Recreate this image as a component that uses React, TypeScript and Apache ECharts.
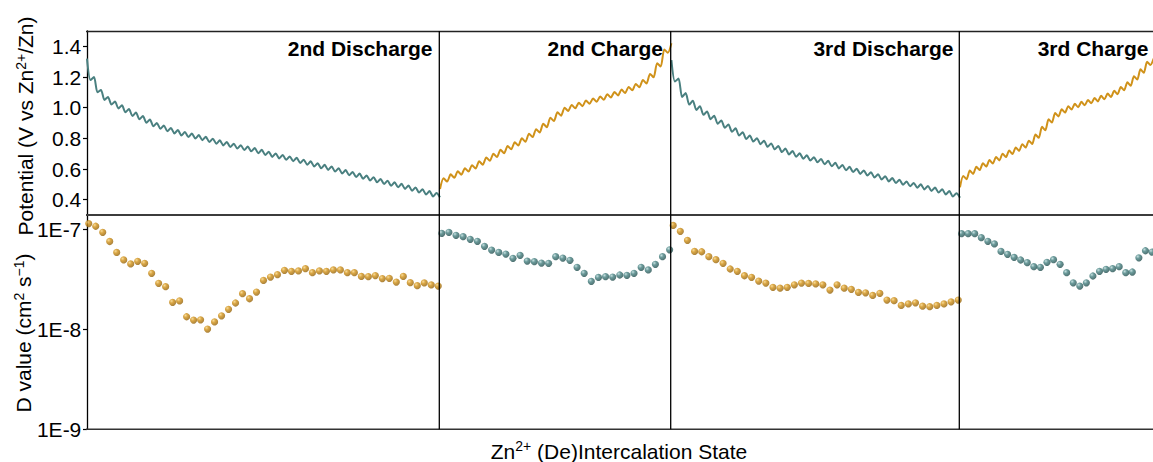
import React, { useEffect, useRef } from 'react';
import * as echarts from 'echarts';

// ---------- data ----------
const panelTitles = ['2nd Discharge', '2nd Charge', '3rd Discharge', '3rd Charge'];
const panelKinds = ['discharge', 'charge', 'discharge', 'charge'];

// GITT potentials per titration step: relaxed (rest) potential and end-of-pulse potential (V vs Zn2+/Zn)
const discharge2Relaxed = [1.32, 1.20, 1.115, 1.07, 1.04, 1.015, 0.991, 0.968, 0.946, 0.923, 0.900, 0.884, 0.868, 0.854, 0.841, 0.831, 0.821, 0.810, 0.798, 0.787, 0.776, 0.765, 0.755, 0.746, 0.737, 0.725, 0.713, 0.701, 0.691, 0.682, 0.673, 0.661, 0.650, 0.638, 0.627, 0.616, 0.605, 0.593, 0.581, 0.570, 0.558, 0.547, 0.535, 0.524, 0.513, 0.503, 0.492, 0.480, 0.468, 0.456, 0.443];
const discharge2Pulse = [1.18, 1.10, 1.05, 1.02, 0.995, 0.970, 0.946, 0.924, 0.901, 0.878, 0.862, 0.846, 0.832, 0.819, 0.809, 0.799, 0.788, 0.776, 0.765, 0.754, 0.743, 0.733, 0.724, 0.715, 0.703, 0.691, 0.679, 0.669, 0.660, 0.651, 0.639, 0.628, 0.616, 0.605, 0.594, 0.583, 0.571, 0.559, 0.548, 0.536, 0.525, 0.513, 0.502, 0.491, 0.481, 0.470, 0.458, 0.446, 0.434, 0.421, 0.415];

const charge2Relaxed = [0.47, 0.518, 0.543, 0.563, 0.583, 0.603, 0.628, 0.653, 0.678, 0.703, 0.728, 0.753, 0.778, 0.808, 0.838, 0.873, 0.913, 0.948, 0.978, 0.996, 1.010, 1.025, 1.038, 1.051, 1.066, 1.080, 1.096, 1.113, 1.133, 1.158, 1.198, 1.268, 1.358];
const charge2Pulse = [0.540, 0.565, 0.585, 0.605, 0.625, 0.650, 0.675, 0.700, 0.725, 0.750, 0.775, 0.800, 0.830, 0.860, 0.895, 0.935, 0.970, 1.000, 1.018, 1.032, 1.047, 1.060, 1.073, 1.088, 1.102, 1.118, 1.135, 1.155, 1.180, 1.220, 1.290, 1.380, 1.420];

const discharge3Relaxed = [1.31, 1.19, 1.095, 1.045, 1.01, 0.975, 0.947, 0.917, 0.891, 0.865, 0.840, 0.818, 0.801, 0.784, 0.767, 0.750, 0.733, 0.717, 0.702, 0.689, 0.677, 0.666, 0.653, 0.640, 0.626, 0.614, 0.602, 0.590, 0.579, 0.566, 0.553, 0.541, 0.530, 0.519, 0.509, 0.500, 0.489, 0.479, 0.468, 0.456, 0.442];
const discharge3Pulse = [1.17, 1.07, 1.02, 0.985, 0.953, 0.925, 0.895, 0.869, 0.843, 0.818, 0.796, 0.779, 0.762, 0.745, 0.728, 0.711, 0.695, 0.680, 0.667, 0.655, 0.644, 0.631, 0.618, 0.604, 0.592, 0.580, 0.568, 0.557, 0.544, 0.531, 0.519, 0.508, 0.497, 0.487, 0.478, 0.467, 0.457, 0.446, 0.434, 0.420, 0.412];

const charge3Relaxed = [0.48, 0.533, 0.568, 0.593, 0.616, 0.636, 0.656, 0.678, 0.698, 0.718, 0.740, 0.763, 0.803, 0.853, 0.903, 0.943, 0.968, 0.988, 1.003, 1.016, 1.028, 1.041, 1.055, 1.070, 1.088, 1.113, 1.143, 1.183, 1.228, 1.278];
const charge3Pulse = [0.555, 0.590, 0.615, 0.638, 0.658, 0.678, 0.700, 0.720, 0.740, 0.762, 0.785, 0.825, 0.875, 0.925, 0.965, 0.990, 1.010, 1.025, 1.038, 1.050, 1.063, 1.077, 1.092, 1.110, 1.135, 1.165, 1.205, 1.250, 1.300, 1.320];

// Diffusion coefficients (cm2 s-1) per step
const discharge2D = [1.15e-7, 1.08e-7, 9.4e-8, 7.6e-8, 5.9e-8, 4.97e-8, 4.53e-8, 4.81e-8, 4.6e-8, 3.65e-8, 2.9e-8, 2.68e-8, 1.87e-8, 1.93e-8, 1.34e-8, 1.24e-8, 1.25e-8, 1.01e-8, 1.19e-8, 1.37e-8, 1.59e-8, 1.84e-8, 2.28e-8, 2.03e-8, 2.37e-8, 3.1e-8, 3.35e-8, 3.54e-8, 3.91e-8, 3.82e-8, 3.85e-8, 4.06e-8, 3.7e-8, 3.85e-8, 3.82e-8, 3.94e-8, 3.94e-8, 3.7e-8, 3.7e-8, 3.4e-8, 3.38e-8, 3.46e-8, 3.23e-8, 3.25e-8, 2.98e-8, 3.4e-8, 2.94e-8, 2.74e-8, 2.92e-8, 2.79e-8, 2.72e-8];
const charge2D = [9.18e-8, 9.4e-8, 8.77e-8, 8.49e-8, 8.0e-8, 7.63e-8, 6.8e-8, 6.24e-8, 5.91e-8, 5.69e-8, 5.15e-8, 5.52e-8, 4.84e-8, 4.77e-8, 4.62e-8, 4.59e-8, 5.35e-8, 5.19e-8, 4.92e-8, 4.19e-8, 3.65e-8, 3.03e-8, 3.32e-8, 3.38e-8, 3.35e-8, 3.51e-8, 3.48e-8, 3.65e-8, 4.19e-8, 3.94e-8, 4.49e-8, 5.35e-8, 6.28e-8];
const discharge3D = [1.10e-7, 9.6e-8, 7.8e-8, 6.05e-8, 6.0e-8, 5.35e-8, 4.99e-8, 4.59e-8, 4.03e-8, 3.82e-8, 3.45e-8, 3.33e-8, 3.05e-8, 2.91e-8, 2.64e-8, 2.59e-8, 2.64e-8, 2.8e-8, 2.91e-8, 2.89e-8, 2.86e-8, 2.8e-8, 2.48e-8, 2.8e-8, 2.59e-8, 2.52e-8, 2.35e-8, 2.33e-8, 2.19e-8, 2.3e-8, 1.97e-8, 1.94e-8, 1.74e-8, 1.8e-8, 1.85e-8, 1.71e-8, 1.69e-8, 1.74e-8, 1.8e-8, 1.89e-8, 1.97e-8];
const charge3D = [9.1e-8, 9.1e-8, 9.1e-8, 8.3e-8, 7.63e-8, 7.18e-8, 6.05e-8, 5.65e-8, 5.27e-8, 4.96e-8, 4.66e-8, 4.25e-8, 4.19e-8, 4.7e-8, 4.99e-8, 4.49e-8, 3.7e-8, 2.93e-8, 2.72e-8, 2.93e-8, 3.43e-8, 3.82e-8, 4.0e-8, 4.06e-8, 4.25e-8, 3.7e-8, 3.76e-8, 5.22e-8, 6.14e-8, 5.96e-8];

const potentialTicks = [0.4, 0.6, 0.8, 1.0, 1.2, 1.4];
const dTicks = [1e-9, 1e-8, 1e-7];

// ---------- layout / style ----------
const FONT = '"Liberation Sans", Arial, Helvetica, sans-serif';
const COL_EDGES = [86.3, 439.3, 670.7, 959.3, 1154];
const TITLE_RIGHT = [432.5, 663, 953.5, 1148.5];
const TOP = 31;
const MID = 215;
const BOTTOM = 429.3;
const TEAL = '#4a8080';
const GOLD = '#d0921a';

const panels = [
  { relaxed: discharge2Relaxed, pulse: discharge2Pulse, d: discharge2D },
  { relaxed: charge2Relaxed, pulse: charge2Pulse, d: charge2D },
  { relaxed: discharge3Relaxed, pulse: discharge3Pulse, d: discharge3D },
  { relaxed: charge3Relaxed, pulse: charge3Pulse, d: charge3D },
];

function ballColor(kind: string) {
  const stops = kind === 'gold'
    ? [
        { offset: 0, color: '#f6d27e' },
        { offset: 0.4, color: '#d09016' },
        { offset: 1, color: '#94620a' },
      ]
    : [
        { offset: 0, color: '#b8d8d8' },
        { offset: 0.4, color: '#468181' },
        { offset: 1, color: '#244f4f' },
      ];
  return new echarts.graphic.RadialGradient(0.35, 0.32, 0.7, stops);
}

function buildOption() {
  const grid: any[] = [];
  const xAxis: any[] = [];
  const yAxis: any[] = [];
  const series: any[] = [];

  panels.forEach((p, k) => {
    const left = COL_EDGES[k];
    const width = COL_EDGES[k + 1] - COL_EDGES[k];
    grid.push({ left, top: TOP, width, height: MID - TOP, show: false });
    grid.push({ left, top: MID, width, height: BOTTOM - MID, show: false });
    const n = p.d.length;
    xAxis.push({ type: 'value', gridIndex: 2 * k, min: -0.1, max: n - 0.6, show: false });
    xAxis.push({ type: 'value', gridIndex: 2 * k + 1, min: -0.1, max: n - 0.6, show: false });

    const showAx = k === 0;
    yAxis.push({
      type: 'value',
      gridIndex: 2 * k,
      min: 0.3,
      max: 1.5,
      show: showAx,
      axisLine: { show: true, lineStyle: { color: '#000', width: 1.3 } },
      axisTick: { show: true, inside: false, length: 4, customValues: potentialTicks, lineStyle: { color: '#000', width: 1.2 } },
      axisLabel: {
        customValues: potentialTicks,
        fontSize: 21,
        fontFamily: FONT,
        color: '#000',
        margin: 5,
        formatter: (v: number) => v.toFixed(1),
      },
      splitLine: { show: false },
    });
    yAxis.push({
      type: 'log',
      logBase: 10,
      gridIndex: 2 * k + 1,
      min: 1e-9,
      max: 1.4e-7,
      show: showAx,
      axisLine: { show: true, lineStyle: { color: '#000', width: 1.3 } },
      axisTick: { show: true, inside: false, length: 4, customValues: dTicks, lineStyle: { color: '#000', width: 1.2 } },
      axisLabel: {
        customValues: dTicks,
        fontSize: 21,
        fontFamily: FONT,
        color: '#000',
        margin: 5,
        formatter: (v: number) => '1E' + Math.round(Math.log10(v)),
      },
      splitLine: { show: false },
      minorTick: { show: false },
      minorSplitLine: { show: false },
    });

    const isDis = panelKinds[k] === 'discharge';
    const lineData: number[][] = [];
    p.relaxed.forEach((v, i) => {
      lineData.push([i, v]);
      lineData.push([i + 0.5, p.pulse[i]]);
    });
    series.push({
      type: 'line',
      xAxisIndex: 2 * k,
      yAxisIndex: 2 * k,
      data: lineData,
      showSymbol: false,
      symbol: 'none',
      clip: true,
      smooth: 0.25,
      lineStyle: { color: isDis ? TEAL : GOLD, width: 2 },
      z: 3,
    });
    series.push({
      type: 'scatter',
      xAxisIndex: 2 * k + 1,
      yAxisIndex: 2 * k + 1,
      data: p.d.map((v, i) => [i + 0.25, v]),
      symbol: 'circle',
      symbolSize: 7.2,
      clip: true,
      itemStyle: { color: ballColor(isDis ? 'gold' : 'teal') },
      z: 3,
    });
  });

  const graphics: any[] = [];
  // frame
  graphics.push({ type: 'line', shape: { x1: 86, y1: 31.5, x2: 1153, y2: 31.5 }, style: { stroke: '#222', lineWidth: 1.3 }, z: 50 });
  graphics.push({ type: 'line', shape: { x1: 86, y1: MID, x2: 1153, y2: MID }, style: { stroke: '#3c3c3c', lineWidth: 2.2 }, z: 50 });
  graphics.push({ type: 'line', shape: { x1: 86, y1: BOTTOM, x2: 1153, y2: BOTTOM }, style: { stroke: '#333', lineWidth: 1.6 }, z: 50 });
  [1, 2, 3].forEach((c) => {
    graphics.push({ type: 'line', shape: { x1: COL_EDGES[c], y1: 31, x2: COL_EDGES[c], y2: BOTTOM }, style: { stroke: '#000', lineWidth: 1.3 }, z: 50 });
  });
  // panel titles
  panelTitles.forEach((t, k) => {
    graphics.push({
      type: 'text',
      x: TITLE_RIGHT[k],
      y: 48,
      z: 60,
      style: { text: t, fontSize: 21, fontWeight: 'bold', fontFamily: FONT, fill: '#000', align: 'right', verticalAlign: 'middle' },
    });
  });
  const rich = {
    n: { fontSize: 21, fontFamily: FONT, fill: '#000' },
    s: { fontSize: 14, fontFamily: FONT, fill: '#000', padding: [0, 0, 10, 0] },
  };
  graphics.push({
    type: 'text',
    x: 25.5,
    y: 126,
    rotation: Math.PI / 2,
    z: 60,
    style: { text: '{n|Potential (V vs Zn}{s|2+}{n|/Zn)}', rich, align: 'center', verticalAlign: 'middle' },
  });
  graphics.push({
    type: 'text',
    x: 23.5,
    y: 333,
    rotation: Math.PI / 2,
    z: 60,
    style: { text: '{n|D value (cm}{s|2}{n| s}{s|\u22121}{n|)}', rich, align: 'center', verticalAlign: 'middle' },
  });
  graphics.push({
    type: 'text',
    x: 619,
    y: 451,
    z: 60,
    style: { text: '{n|Zn}{s|2+}{n| (De)Intercalation State}', rich, align: 'center', verticalAlign: 'middle' },
  });

  return {
    animation: false,
    backgroundColor: '#fff',
    grid,
    xAxis,
    yAxis,
    series,
    graphic: graphics,
  };
}

export default function App() {
  const ref = useRef<HTMLDivElement | null>(null);
  useEffect(() => {
    if (!ref.current) return;
    const chart = echarts.init(ref.current, undefined, { renderer: 'svg' });
    chart.setOption(buildOption() as any);
    return () => {
      chart.dispose();
    };
  }, []);
  return (
    <div
      ref={ref}
      style={{ position: 'absolute', left: 0, top: 0, width: 1153, height: 462, background: '#fff' }}
    />
  );
}
